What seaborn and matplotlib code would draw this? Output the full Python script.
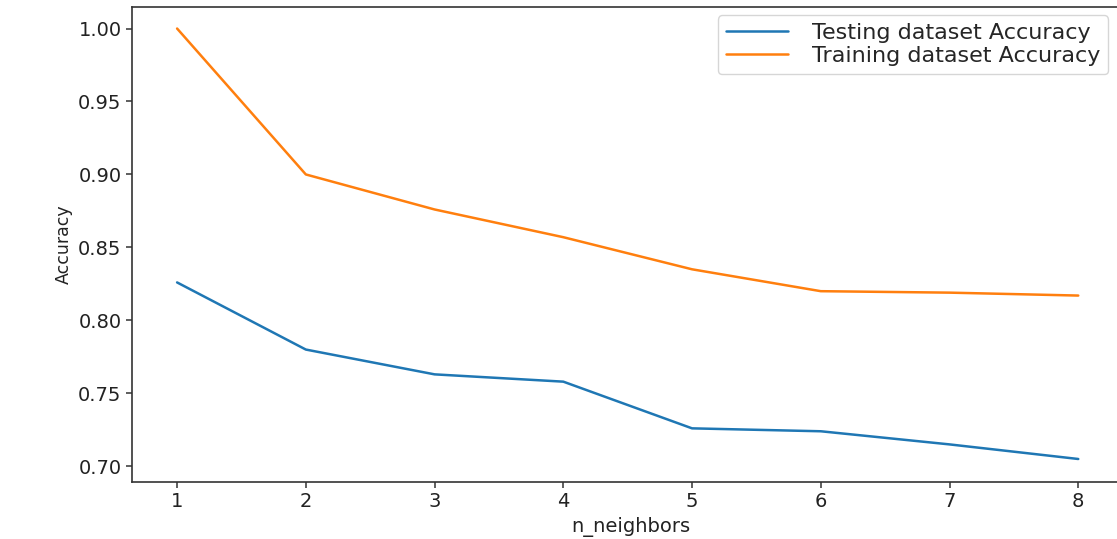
import matplotlib
matplotlib.use("Agg")
import matplotlib.pyplot as plt
import seaborn as sns
import pandas as pd

n_neighbors = [1, 2, 3, 4, 5, 6, 7, 8]
test_acc = [0.826, 0.780, 0.763, 0.758, 0.726, 0.724, 0.715, 0.705]
train_acc = [1.000, 0.900, 0.876, 0.857, 0.835, 0.820, 0.819, 0.817]
series_names = ["Testing dataset Accuracy", "Training dataset Accuracy"]

df = pd.DataFrame({
    "n_neighbors": n_neighbors * 2,
    "Accuracy": test_acc + train_acc,
    "series": [series_names[0]] * len(n_neighbors) + [series_names[1]] * len(n_neighbors),
})

sns.set_style("ticks")
plt.rcParams["font.family"] = ["DejaVu Sans"]

fig = plt.figure(figsize=(11.17, 5.39), dpi=100)
ax = fig.add_axes([0.1182, 0.1058, 1.012 - 0.1182, 0.987 - 0.1058])
sns.lineplot(data=df, x="n_neighbors", y="Accuracy", hue="series",
             palette=["#1f77b4", "#ff7f0e"], linewidth=1.8, ax=ax)

for s in ax.spines.values():
    s.set_visible(True)
    s.set_color("#333333")
    s.set_linewidth(1.2)
ax.spines["right"].set_visible(False)

ax.tick_params(axis="both", labelsize=14, length=4, width=1.1, colors="#333333", labelcolor="#222222")
ax.set_xlabel("n_neighbors", fontsize=14, color="#222222")
ax.set_ylabel("Accuracy", fontsize=12.5, color="#222222")
ax.set_yticks([0.70, 0.75, 0.80, 0.85, 0.90, 0.95, 1.00])
ax.set_yticklabels([f"{v:.2f}" for v in [0.70, 0.75, 0.80, 0.85, 0.90, 0.95, 1.00]])
ax.set_ylim(0.68925, 1.01475)
ax.set_xlim(0.65, 8.405)

leg = ax.legend(title=None, loc="upper right", bbox_to_anchor=(0.978, 0.983),
                fontsize=16, frameon=True, borderaxespad=0.0,
                handlelength=2.8, labelspacing=0.15, borderpad=0.35,
                handletextpad=1.1)
leg.get_frame().set_edgecolor("#cccccc")

fig.savefig("out.png", dpi=100)
